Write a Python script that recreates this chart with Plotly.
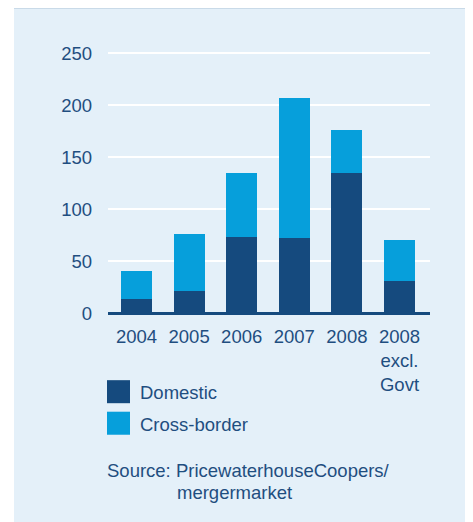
import plotly.graph_objects as go

categories = ["2004", "2005", "2006", "2007", "2008", "2008<br>excl.<br>Govt"]
domestic = [14, 22, 73, 72, 135, 31]
cross_border = [27, 54, 62, 135, 41, 40]
series_names = ["Domestic", "Cross-border"]
y_ticks = [0, 50, 100, 150, 200, 250]
source_lines = ["Source: PricewaterhouseCoopers/", "mergermarket"]

# page body margin offset (8px) compensated
OFF = 8
W, H = 473 - OFF, 522 - OFF
L, R = 108 - OFF, 430 - OFF
T, B = 51.2 - OFF, 314.9 - OFF

def px_x(x):
    return (x - OFF - L) / (R - L)

def px_y(y):
    return (B - (y - OFF)) / (B - T)

DARK = "#154a7e"
LIGHT = "#069fdb"
TEXT = "#1f4e80"
PANEL = "#e4f0f9"
FONT = "Liberation Sans, Arial, sans-serif"
FS = 18.5

fig = go.Figure()
fig.add_trace(go.Bar(x=list(range(len(categories))), y=domestic, name=series_names[0],
                     marker=dict(color=DARK, line=dict(width=0)), width=0.59))
fig.add_trace(go.Bar(x=list(range(len(categories))), y=cross_border, name=series_names[1],
                     marker=dict(color=LIGHT, line=dict(width=0)), width=0.59))

shapes = [
    dict(type="rect", xref="paper", yref="paper", x0=px_x(14), x1=px_x(468),
         y0=px_y(540), y1=px_y(7), fillcolor=PANEL, line=dict(width=0), layer="below"),
    dict(type="line", xref="paper", yref="paper", x0=px_x(14), x1=px_x(468),
         y0=px_y(7.5), y1=px_y(7.5), line=dict(color="#7a98b6", width=2), layer="below"),
    dict(type="rect", xref="paper", yref="paper", x0=px_x(107), x1=px_x(130),
         y0=px_y(403), y1=px_y(380), fillcolor=DARK, line=dict(width=0)),
    dict(type="rect", xref="paper", yref="paper", x0=px_x(107), x1=px_x(130),
         y0=px_y(434.5), y1=px_y(411.5), fillcolor=LIGHT, line=dict(width=0)),
]

def ann(text, x, y):
    return dict(text=text, xref="paper", yref="paper", x=px_x(x), y=px_y(y),
                xanchor="left", yanchor="middle", showarrow=False,
                font=dict(size=FS, color=TEXT, family=FONT))

annotations = [
    ann(series_names[0], 138, 392),
    ann(series_names[1], 138, 424),
    ann(source_lines[0], 105, 470),
    ann(source_lines[1], 175, 492),
]

fig.update_layout(
    barmode="stack",
    width=W, height=H,
    margin=dict(l=L, r=W - R, t=T, b=H - B, pad=0),
    paper_bgcolor="white",
    plot_bgcolor=PANEL,
    showlegend=False,
    shapes=shapes,
    annotations=annotations,
    font=dict(family=FONT, size=FS, color=TEXT),
    xaxis=dict(
        tickmode="array", tickvals=list(range(len(categories))), ticktext=categories,
        range=[-0.542, 5.58], showgrid=False, zeroline=False, showline=False,
        ticks="", ticklabelstandoff=8, tickfont=dict(size=FS, color=TEXT, family=FONT),
        fixedrange=True,
    ),
    yaxis=dict(
        range=[-1.5, 252], tickmode="array", tickvals=y_ticks,
        showgrid=True, gridcolor="white", gridwidth=2,
        zeroline=True, zerolinecolor=DARK, zerolinewidth=2.5,
        showline=False, ticks="", ticklabelstandoff=15,
        tickfont=dict(size=FS, color=TEXT, family=FONT), fixedrange=True,
    ),
)

fig.write_html("out.html")
